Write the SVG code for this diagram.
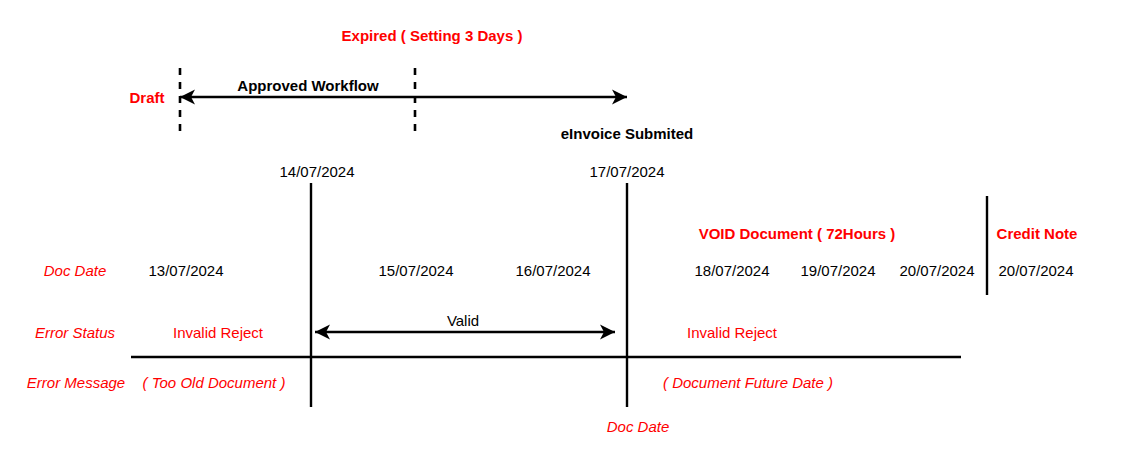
<svg xmlns="http://www.w3.org/2000/svg" width="1123" height="452" viewBox="0 0 1123 452">
<style>
text{font-family:"Liberation Sans",Arial,sans-serif;font-size:15px;text-anchor:middle;dominant-baseline:central}
.r{fill:#ff0000}
.b{font-weight:bold}
.i{font-style:italic}
.ln{stroke:#000;stroke-width:2.4;fill:none}
.ds{stroke:#000;stroke-width:2.6;stroke-dasharray:7,7;fill:none}
</style>
<defs>
<marker id="ah" viewBox="-17 -9 18 18" refX="0" refY="0" markerWidth="18" markerHeight="18" markerUnits="userSpaceOnUse" orient="auto-start-reverse">
<path d="M0,0 L-15,-7.5 L-11,0 L-15,7.5 Z" fill="#000"/>
</marker>
</defs>
<g id="connectors">
<line class="ds" x1="180" y1="68" x2="180" y2="136"/>
<line class="ds" x1="415" y1="68" x2="415" y2="136"/>
<line class="ln" x1="180" y1="97" x2="627" y2="97" marker-start="url(#ah)" marker-end="url(#ah)"/>
<line class="ln" x1="311" y1="183" x2="311" y2="407"/>
<line class="ln" x1="627" y1="183" x2="627" y2="407"/>
<line class="ln" x1="131" y1="357" x2="961" y2="357"/>
<line class="ln" x1="987" y1="196" x2="987" y2="295"/>
<line class="ln" x1="315" y1="332" x2="615" y2="332" marker-start="url(#ah)" marker-end="url(#ah)"/>
</g>
<g id="labels-top">
<text class="r b" x="432" y="35">Expired ( Setting 3 Days )</text>
<text class="r b" x="147" y="97">Draft</text>
<text class="b" x="308" y="85">Approved Workflow</text>
<text class="b" x="627" y="133">eInvoice Submited</text>
<text x="317" y="171">14/07/2024</text>
<text x="627" y="171">17/07/2024</text>
</g>
<g id="row-docdate">
<text class="r i" x="75" y="270">Doc Date</text>
<text x="186" y="270">13/07/2024</text>
<text x="416" y="270">15/07/2024</text>
<text x="553" y="270">16/07/2024</text>
<text x="732" y="270">18/07/2024</text>
<text x="838" y="270">19/07/2024</text>
<text x="937" y="270">20/07/2024</text>
<text x="1036" y="270">20/07/2024</text>
<text class="r b" x="797" y="233">VOID Document ( 72Hours )</text>
<text class="r b" x="1037" y="233">Credit Note</text>
</g>
<g id="row-status">
<text class="r i" x="75" y="332">Error Status</text>
<text class="r" x="218" y="332">Invalid Reject</text>
<text x="463" y="320">Valid</text>
<text class="r" x="732" y="332">Invalid Reject</text>
</g>
<g id="row-message">
<text class="r i" x="76" y="382">Error Message</text>
<text class="r i" x="214" y="382">( Too Old Document )</text>
<text class="r i" x="748" y="382">( Document Future Date )</text>
<text class="r i" x="638" y="426">Doc Date</text>
</g>
</svg>
